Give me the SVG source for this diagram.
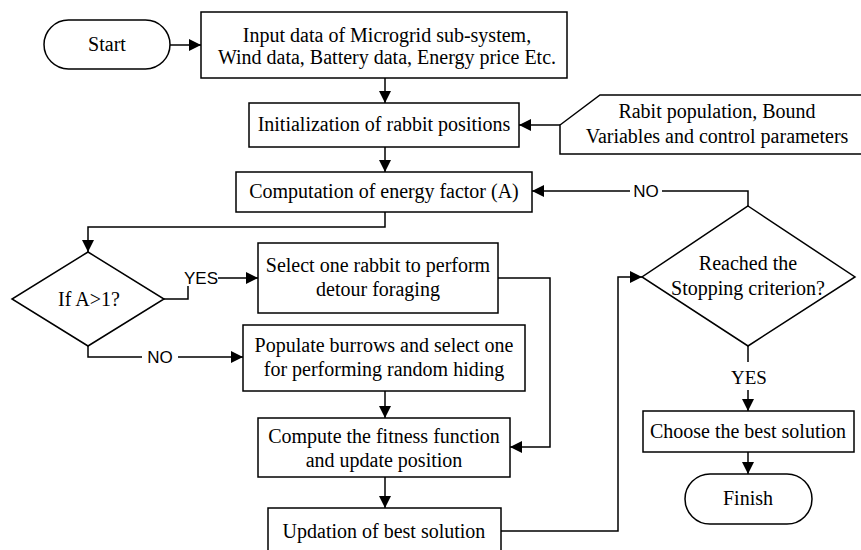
<svg xmlns="http://www.w3.org/2000/svg" width="861" height="550" viewBox="0 0 861 550">
<style>
.box{fill:#fff;stroke:#000;stroke-width:1.5}
.t{font-family:"Liberation Serif","Times New Roman",serif;font-size:20px;fill:#000;text-anchor:middle}
.lab{font-family:"Liberation Sans",Arial,sans-serif;font-size:17px;fill:#000;text-anchor:middle}
.c{fill:none;stroke:#000;stroke-width:1.5}
.bg{fill:#fff}
</style>
<defs>
<marker id="ah" markerUnits="userSpaceOnUse" markerWidth="12" markerHeight="12" refX="12" refY="6" orient="auto" viewBox="0 0 12 12">
<path d="M0,0 L12,6 L0,12 z" fill="#000"/>
</marker>
</defs>
<rect x="0" y="0" width="861" height="550" fill="#fff"/>
<g id="connectors">
<path class="c" d="M170,45 H201" marker-end="url(#ah)"/>
<path class="c" d="M385,78 V103" marker-end="url(#ah)"/>
<path class="c" d="M560,125 H519" marker-end="url(#ah)"/>
<path class="c" d="M385,147 V172" marker-end="url(#ah)"/>
<path class="c" d="M385,212 V227 H88 V252" marker-end="url(#ah)"/>
<path class="c" d="M164,299 H188 V278 H258" marker-end="url(#ah)"/>
<path class="c" d="M88,346 V357 H243" marker-end="url(#ah)"/>
<path class="c" d="M498,278 H550 V447 H510" marker-end="url(#ah)"/>
<path class="c" d="M385,391 V418" marker-end="url(#ah)"/>
<path class="c" d="M385,477 V508" marker-end="url(#ah)"/>
<path class="c" d="M501,531 H618 V277 H642" marker-end="url(#ah)"/>
<path class="c" d="M748,206 V191 H532" marker-end="url(#ah)"/>
<path class="c" d="M748,346 V411" marker-end="url(#ah)"/>
<path class="c" d="M748,452 V474" marker-end="url(#ah)"/>
<rect class="bg" x="184" y="268" width="34" height="18"/>
<text class="lab" x="201" y="284">YES</text>
<rect class="bg" x="142" y="348" width="36" height="18"/>
<text class="lab" x="160" y="363">NO</text>
<rect class="bg" x="630" y="182" width="32" height="18"/>
<text class="lab" x="646" y="197">NO</text>
<rect class="bg" x="730" y="362" width="37" height="28"/>
<text class="t" x="749" y="384" style="font-size:19px">YES</text>
</g>
<g id="start">
<rect class="box" x="44" y="20" width="126" height="49" rx="24.5"/>
<text class="t" x="107" y="51">Start</text>
</g>
<g id="input">
<rect class="box" x="201" y="12" width="366" height="66"/>
<text class="t" x="387" y="42">Input data of Microgrid sub-system,</text>
<text class="t" x="387" y="64">Wind data, Battery data, Energy price Etc.</text>
</g>
<g id="init">
<rect class="box" x="249" y="103" width="270" height="44"/>
<text class="t" x="384" y="131">Initialization of rabbit positions</text>
</g>
<g id="params">
<path class="box" d="M600,95 H862 V154 H560 V125 Z"/>
<text class="t" x="717" y="118">Rabit population, Bound</text>
<text class="t" x="717" y="143">Variables and control parameters</text>
</g>
<g id="energy">
<rect class="box" x="236" y="172" width="296" height="40"/>
<text class="t" x="384" y="198">Computation of energy factor (A)</text>
</g>
<g id="ifA">
<path class="box" d="M88,252 L164,299 L88,346 L12,299 Z"/>
<text class="t" x="89" y="306">If A&gt;1?</text>
</g>
<g id="select">
<rect class="box" x="258" y="243" width="240" height="70"/>
<text class="t" x="378" y="272">Select one rabbit to perform</text>
<text class="t" x="378" y="296">detour foraging</text>
</g>
<g id="populate">
<rect class="box" x="243" y="325" width="282" height="66"/>
<text class="t" x="384" y="352">Populate burrows and select one</text>
<text class="t" x="384" y="376">for performing random hiding</text>
</g>
<g id="compute">
<rect class="box" x="258" y="418" width="252" height="59"/>
<text class="t" x="384" y="443">Compute the fitness function</text>
<text class="t" x="384" y="467">and update position</text>
</g>
<g id="updation">
<rect class="box" x="268" y="508" width="233" height="52"/>
<text class="t" x="384" y="538">Updation of best solution</text>
</g>
<g id="stop">
<path class="box" d="M748,206 L855,277 L748,346 L642,277 Z"/>
<text class="t" x="748" y="270">Reached the</text>
<text class="t" x="748" y="295">Stopping criterion?</text>
</g>
<g id="choose">
<rect class="box" x="643" y="411" width="211" height="41"/>
<text class="t" x="748" y="438">Choose the best solution</text>
</g>
<g id="finish">
<rect class="box" x="685" y="474" width="127" height="50" rx="25"/>
<text class="t" x="748" y="505">Finish</text>
</g>
</svg>
